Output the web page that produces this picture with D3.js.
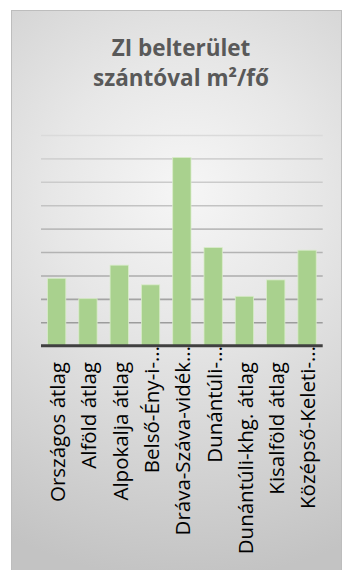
<!DOCTYPE html>
<html>
<head>
<meta charset="utf-8">
<script src="https://cdn.jsdelivr.net/npm/d3@7"></script>
<style>
  html, body { margin: 0; padding: 0; background: #ffffff; }
  svg { display: block; }
</style>
</head>
<body>
<svg id="chart" width="343" height="570"></svg>
<script>
// ---- data ----
const titleLines = ["ZI belterület", "szántóval m²/fő"];
const categories = [
  "Országos átlag", "Alföld átlag", "Alpokalja átlag", "Belső-Ény-i-…",
  "Dráva-Száva-vidék…", "Dunántúli-…", "Dunántúli-khg. átlag",
  "Kisalföld átlag", "Középső-Keleti-…"
];
const values = [2.88, 2.01, 3.44, 2.60, 8.04, 4.19, 2.11, 2.81, 4.08];
const gridTicks = [1, 2, 3, 4, 5, 6, 7, 8, 9];

// ---- layout ----
const svg = d3.select("#chart");
const plot = { left: 41, right: 322.7, top: 135, bottom: 345.7 };
const fontFam = "'Open Sans', 'Noto Sans', sans-serif";

const defs = svg.append("defs");
const rg = defs.append("radialGradient")
  .attr("id", "bg").attr("gradientUnits", "userSpaceOnUse")
  .attr("cx", 185).attr("cy", 200).attr("r", 380)
  .attr("fx", 185).attr("fy", 190);
rg.append("stop").attr("offset", "0%").attr("stop-color", "#f6f6f6");
rg.append("stop").attr("offset", "35%").attr("stop-color", "#e7e7e7");
rg.append("stop").attr("offset", "100%").attr("stop-color", "#c3c3c3");

svg.append("rect")
  .attr("x", 11.5).attr("y", 10.5).attr("width", 330).attr("height", 570)
  .attr("fill", "url(#bg)").attr("stroke", "#bdbdbd").attr("stroke-width", 1);

// title
const title = svg.append("text")
  .attr("text-anchor", "middle")
  .attr("font-family", fontFam)
  .attr("font-weight", "bold")
  .attr("font-size", 22.5)
  .attr("fill", "#595959");
titleLines.forEach((t, i) =>
  title.append("tspan").attr("x", 181).attr("y", 55.5 + i * 30.8).text(t));

// scales
const x = d3.scaleBand()
  .domain(categories)
  .range([plot.left, plot.right])
  .paddingInner(0.415)
  .paddingOuter(0.2075);
const y = d3.scaleLinear().domain([0, 9]).range([plot.bottom, plot.top]);

const gridColor = d3.scaleLinear().domain([9, 1]).range(["#dadada", "#9c9c9c"]);

// gridlines
const gAxis = svg.append("g")
  .attr("transform", `translate(${plot.left},0)`)
  .call(d3.axisRight(y).tickValues(gridTicks).tickSize(plot.right - plot.left).tickFormat(""));
gAxis.select(".domain").remove();
gAxis.selectAll(".tick line")
  .attr("stroke", d => gridColor(d))
  .attr("stroke-width", 1.6);

// bars
svg.append("g").selectAll("rect")
  .data(values)
  .join("rect")
  .attr("x", (d, i) => x(categories[i]))
  .attr("width", x.bandwidth())
  .attr("y", d => y(d))
  .attr("height", d => y(0) - y(d))
  .attr("fill", "#a9d18e")
  .attr("stroke", "#d9ecca")
  .attr("stroke-width", 0.8);

// x axis
const xAxis = svg.append("g")
  .attr("transform", `translate(0,${plot.bottom})`)
  .call(d3.axisBottom(x).tickSize(0).tickFormat(""));
xAxis.select(".domain")
  .attr("stroke", "#404040")
  .attr("stroke-width", 3)
  .attr("d", `M${plot.left},0H${plot.right}`);

// category labels (rotated)
// measure size so that "Országos átlag" spans ~140px like the reference
const probe = svg.append("text").attr("font-family", fontFam).attr("font-size", 20).text(categories[0]);
const labelSize = 20 * 140 / probe.node().getComputedTextLength();
probe.remove();

const labels = svg.append("g");
categories.forEach(c => {
  const cx = x(c) + x.bandwidth() / 2 + 1;
  const ell = c.endsWith("…");
  const base = ell ? c.slice(0, -1) : c;
  const g = labels.append("g").attr("transform", `translate(${cx},362) rotate(-90)`);
  g.append("text")
    .attr("text-anchor", "end")
    .attr("dy", "0.36em")
    .attr("font-family", fontFam)
    .attr("font-size", labelSize)
    .attr("fill", "#000000")
    .text(base);
  if (ell) {
    g.append("text")
      .attr("text-anchor", "start")
      .attr("dy", "0.36em")
      .attr("font-family", fontFam)
      .attr("font-size", labelSize)
      .attr("fill", "#000000")
      .text("…");
  }
});
</script>
</body>
</html>
